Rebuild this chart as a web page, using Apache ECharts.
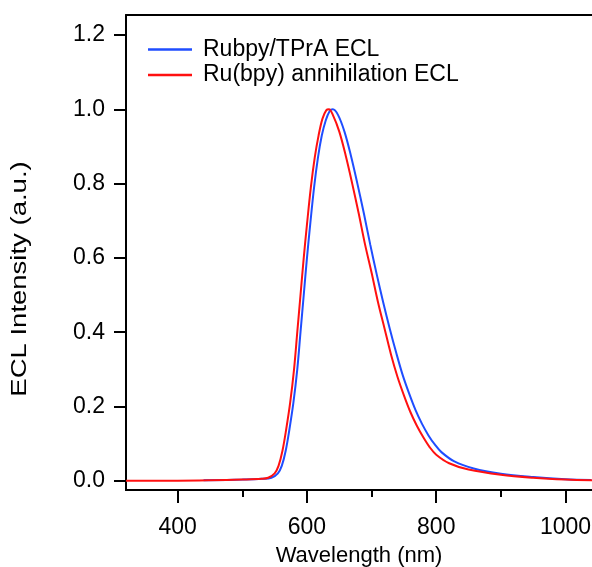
<!DOCTYPE html>
<html>
<head>
<meta charset="utf-8">
<script src="https://cdn.jsdelivr.net/npm/echarts@6/dist/echarts.min.js"></script>
<style>html,body{margin:0;padding:0;background:#fff}#c{width:592px;height:567px}</style>
</head>
<body>
<div id="c"></div>
<script>
// Wavelength (nm) and normalized ECL intensity
const blueWl = [440, 500, 530, 545, 555, 561, 567, 573, 579, 585, 590, 595, 600, 605, 611, 617, 623, 629, 635, 640, 648, 658, 668, 678, 688, 698, 708, 718, 728, 738, 748, 758, 768, 778, 788, 798, 808, 828, 858, 900, 950, 1000, 1040];
const blueVal = [0.001, 0.003, 0.005, 0.008, 0.02, 0.04, 0.08, 0.14, 0.21, 0.30, 0.40, 0.50, 0.60, 0.69, 0.79, 0.87, 0.93, 0.97, 0.995, 1.0, 0.985, 0.94, 0.875, 0.80, 0.72, 0.635, 0.555, 0.48, 0.41, 0.345, 0.285, 0.235, 0.19, 0.153, 0.122, 0.097, 0.077, 0.052, 0.033, 0.019, 0.01, 0.004, 0.002];
const redWl = [320, 400, 450, 500, 530, 540, 550, 556, 562, 568, 574, 580, 585, 590, 595, 600, 606, 612, 618, 624, 630, 634, 640, 650, 660, 670, 680, 690, 700, 710, 720, 730, 740, 750, 760, 770, 780, 790, 800, 820, 850, 900, 950, 1000, 1041];
const redVal = [0.0, 0.0, 0.001, 0.003, 0.005, 0.008, 0.02, 0.04, 0.08, 0.14, 0.21, 0.30, 0.40, 0.50, 0.60, 0.69, 0.79, 0.87, 0.93, 0.975, 0.998, 1.0, 0.985, 0.94, 0.875, 0.80, 0.72, 0.635, 0.56, 0.48, 0.41, 0.34, 0.28, 0.23, 0.185, 0.148, 0.117, 0.09, 0.07, 0.047, 0.03, 0.016, 0.008, 0.003, 0.001];
const seriesNames = ['Rubpy/TPrA ECL', 'Ru(bpy) annihilation ECL'];
const xMajorTicks = [400, 600, 800, 1000];
const xMinorTicks = [500, 700, 900];
const yTicks = [0, 0.2, 0.4, 0.6, 0.8, 1.0, 1.2];

const pair = (xs, ys) => xs.map((x, i) => [x, ys[i]]);
const FONT = 'Liberation Sans, Arial, sans-serif';
const chart = echarts.init(document.getElementById('c'), null, {renderer: 'canvas'});
const axLine = {show: true, onZero: false, lineStyle: {color: '#000', width: 2}};
const xBase = {type: 'value', min: 320, max: 1041, splitLine: {show: false}, axisLine: axLine};
chart.setOption({
  animation: false,
  backgroundColor: '#fff',
  grid: {left: 126, top: 15, right: 0, bottom: 77, containLabel: false, outerBoundsMode: 'none'},
  legend: {
    orient: 'vertical', left: 148, top: 38, padding: 0, itemWidth: 44, itemHeight: 2.5, itemGap: 2.5,
    icon: 'rect',
    textStyle: {fontFamily: FONT, fontSize: 23, color: '#000', lineHeight: 23, padding: [0, 0, 0, 6]},
    data: seriesNames
  },
  xAxis: [
    Object.assign({}, xBase, {
      position: 'bottom',
      name: 'Wavelength (nm)', nameLocation: 'middle', nameGap: 55,
      nameTextStyle: {fontFamily: FONT, fontSize: 22, color: '#000'},
      axisTick: {show: true, length: 13, lineStyle: {color: '#000', width: 2}, customValues: xMajorTicks},
      axisLabel: {show: true, margin: 26, fontFamily: FONT, fontSize: 23, color: '#000', customValues: xMajorTicks,
        formatter: v => String(v)}
    }),
    Object.assign({}, xBase, {
      position: 'bottom',
      axisTick: {show: true, length: 7, lineStyle: {color: '#000', width: 2}, customValues: xMinorTicks},
      axisLabel: {show: false}
    }),
    Object.assign({}, xBase, {
      position: 'top',
      axisTick: {show: false},
      axisLabel: {show: false}
    })
  ],
  yAxis: {
    type: 'value', min: -0.025, max: 1.254,
    splitLine: {show: false},
    axisLine: axLine,
    axisTick: {show: true, length: 12, lineStyle: {color: '#000', width: 2}, customValues: yTicks},
    axisLabel: {show: true, margin: 21, fontFamily: FONT, fontSize: 23, color: '#000', customValues: yTicks,
      formatter: v => v.toFixed(1)}
  },
  graphic: [{
    type: 'text', x: 20, y: 279, rotation: Math.PI / 2, scaleX: 1.25,
    style: {text: 'ECL Intensity (a.u.)', fontFamily: FONT, fontSize: 22, fill: '#000', align: 'center', verticalAlign: 'middle'}
  }],
  series: [
    {name: seriesNames[0], type: 'line', data: pair(blueWl, blueVal), showSymbol: false, smooth: 0.35,
      color: '#1f4dff', lineStyle: {width: 2, color: '#1f4dff'}},
    {name: seriesNames[1], type: 'line', data: pair(redWl, redVal), showSymbol: false, smooth: 0.35,
      color: '#ff1010', lineStyle: {width: 2, color: '#ff1010'}}
  ]
});
</script>
</body>
</html>
